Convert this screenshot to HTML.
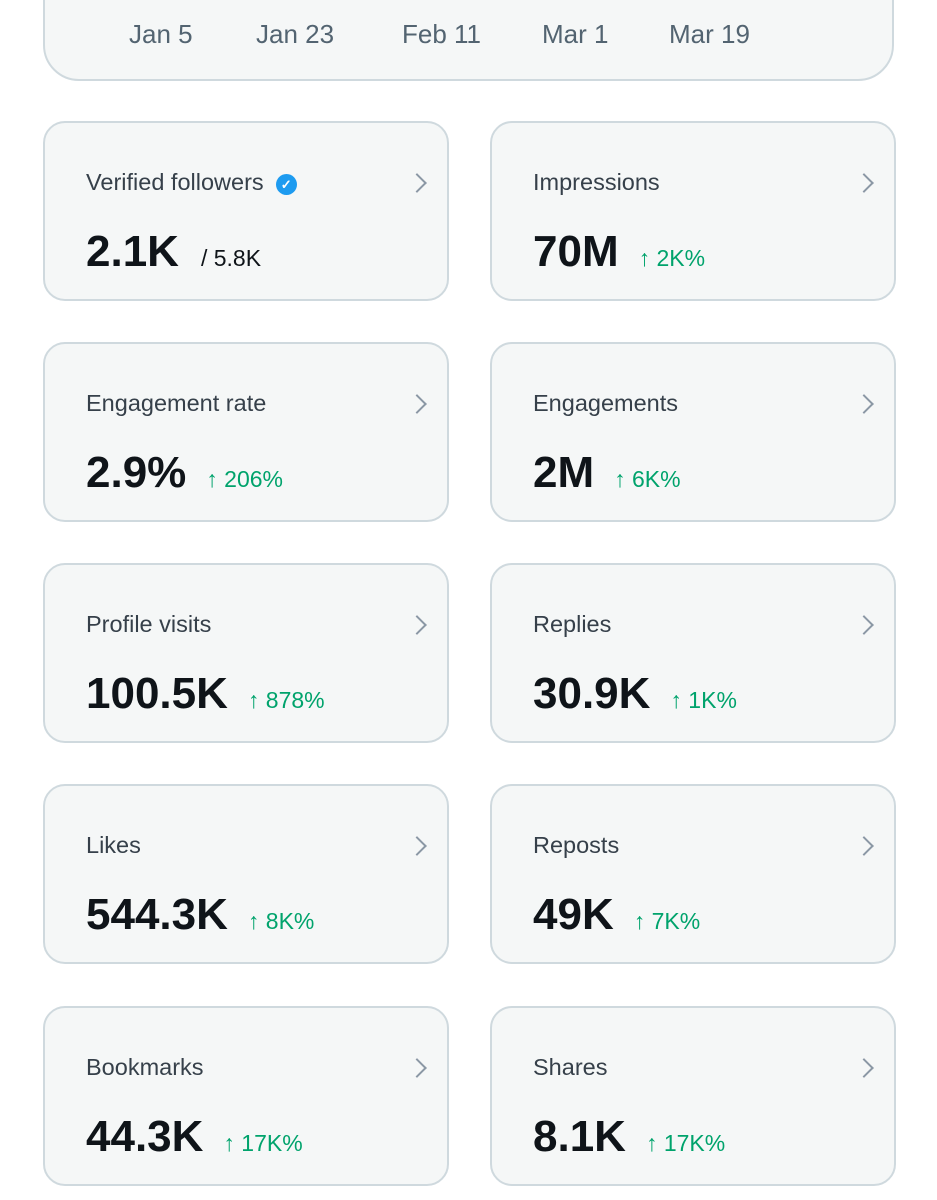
<!DOCTYPE html>
<html><head><meta charset="utf-8"><style>
body{margin:0;width:937px;height:1200px;background:#fff;font-family:"Liberation Sans",sans-serif;position:relative;overflow:hidden}
.top{position:absolute;left:43px;top:-40px;width:847px;height:117px;background:#f5f7f7;border:2px solid #cfd9de;border-radius:36px;box-sizing:content-box}
.tick{position:absolute;top:16px;font-size:26px;color:#536471}
.card{position:absolute;width:402px;height:176px;background:#f5f7f7;border:2px solid #cfd9de;border-radius:22px}
.lbl{position:absolute;left:41px;top:46px;font-size:23.5px;color:#36404a}
.chev{position:absolute;right:23px;top:53px;width:12px;height:12px;border-top:2.5px solid #8b98a5;border-right:2.5px solid #8b98a5;transform:rotate(45deg)}
.val{position:absolute;left:41px;top:104px;font-size:44px;font-weight:bold;color:#0f1419;white-space:nowrap}
.d{font-size:23px;font-weight:normal;color:#00a36c;margin-left:20px}
.s{font-size:23px;font-weight:normal;color:#0f1419;margin-left:22px}
.badge{display:inline-block;width:21px;height:21px;border-radius:50%;background:#1d9bf0;color:#fff;font-size:13px;text-align:center;line-height:21px;vertical-align:1px;margin-left:12px;font-weight:bold}
</style></head><body>
<div class="top">
<span class="tick" style="left:84px;top:57px">Jan 5</span>
<span class="tick" style="left:211px;top:57px">Jan 23</span>
<span class="tick" style="left:357px;top:57px">Feb 11</span>
<span class="tick" style="left:497px;top:57px">Mar 1</span>
<span class="tick" style="left:624px;top:57px">Mar 19</span>
</div>

<div class="card" style="left:43px;top:121px"><div class="lbl">Verified followers<span class="badge">✓</span></div><div class="chev"></div><div class="val">2.1K<span class="s">/ 5.8K</span></div></div>
<div class="card" style="left:490px;top:121px"><div class="lbl">Impressions</div><div class="chev"></div><div class="val">70M<span class="d">↑ 2K%</span></div></div>

<div class="card" style="left:43px;top:342px"><div class="lbl">Engagement rate</div><div class="chev"></div><div class="val">2.9%<span class="d">↑ 206%</span></div></div>
<div class="card" style="left:490px;top:342px"><div class="lbl">Engagements</div><div class="chev"></div><div class="val">2M<span class="d">↑ 6K%</span></div></div>

<div class="card" style="left:43px;top:563px"><div class="lbl">Profile visits</div><div class="chev"></div><div class="val">100.5K<span class="d">↑ 878%</span></div></div>
<div class="card" style="left:490px;top:563px"><div class="lbl">Replies</div><div class="chev"></div><div class="val">30.9K<span class="d">↑ 1K%</span></div></div>

<div class="card" style="left:43px;top:784px"><div class="lbl">Likes</div><div class="chev"></div><div class="val">544.3K<span class="d">↑ 8K%</span></div></div>
<div class="card" style="left:490px;top:784px"><div class="lbl">Reposts</div><div class="chev"></div><div class="val">49K<span class="d">↑ 7K%</span></div></div>

<div class="card" style="left:43px;top:1006px"><div class="lbl">Bookmarks</div><div class="chev"></div><div class="val">44.3K<span class="d">↑ 17K%</span></div></div>
<div class="card" style="left:490px;top:1006px"><div class="lbl">Shares</div><div class="chev"></div><div class="val">8.1K<span class="d">↑ 17K%</span></div></div>
</body></html>
